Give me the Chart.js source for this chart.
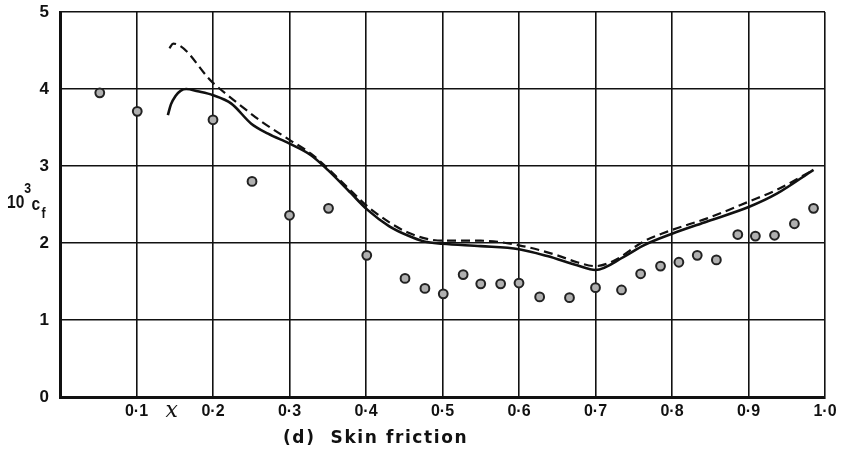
<!DOCTYPE html>
<html>
<head>
<meta charset="utf-8">
<script src="https://cdn.jsdelivr.net/npm/chart.js@4.4.0/dist/chart.umd.min.js"></script>
<style>
html,body{margin:0;padding:0;background:#fff;}
#wrap{position:relative;width:852px;height:451px;}
</style>
</head>
<body>
<div id="wrap"><canvas id="c" width="852" height="451"></canvas></div>
<script>
// ---- data ----
const xTicks = [0.1,0.2,0.3,0.4,0.5,0.6,0.7,0.8,0.9,1.0];
const xTickLabels = ['0·1','0·2','0·3','0·4','0·5','0·6','0·7','0·8','0·9','1·0'];
const yTickLabels = ['0','1','2','3','4','5'];

const pointX = [0.052,0.101,0.200,0.251,0.300,0.351,0.401,0.451,0.477,0.501,0.527,0.550,0.576,0.600,0.627,0.666,0.700,0.734,0.759,0.785,0.809,0.833,0.858,0.886,0.909,0.934,0.960,0.985];
const pointY = [3.95,3.71,3.60,2.80,2.36,2.45,1.84,1.54,1.41,1.34,1.59,1.47,1.47,1.48,1.30,1.29,1.42,1.39,1.60,1.70,1.75,1.84,1.78,2.11,2.09,2.10,2.25,2.45];

const solidX = [0.141,0.145,0.151,0.158,0.165,0.180,0.200,0.224,0.250,0.272,0.300,0.328,0.350,0.380,0.402,0.430,0.454,0.476,0.500,0.550,0.600,0.637,0.676,0.700,0.737,0.763,0.800,0.846,0.901,0.937,0.985];
const solidY = [3.66,3.80,3.91,3.98,4.00,3.97,3.92,3.81,3.55,3.42,3.29,3.14,2.95,2.65,2.43,2.22,2.10,2.02,1.99,1.96,1.92,1.83,1.71,1.65,1.82,1.97,2.12,2.28,2.47,2.64,2.95];

const dashX = [0.143,0.148,0.200,0.233,0.263,0.300,0.328,0.350,0.380,0.405,0.454,0.500,0.550,0.600,0.650,0.676,0.700,0.724,0.763,0.800,0.846,0.901,0.937,0.985];
const dashY = [4.53,4.59,4.08,3.81,3.58,3.34,3.16,2.97,2.68,2.45,2.14,2.03,2.03,1.97,1.84,1.75,1.70,1.77,2.02,2.17,2.32,2.54,2.69,2.95];

const toXY = (xs, ys) => xs.map((x, i) => ({x: x, y: ys[i]}));

const textPlugin = {
  id: 'texts',
  afterDraw(chart) {
    const ctx = chart.ctx;
    const xs = chart.scales.x;
    ctx.save();
    ctx.fillStyle = '#111';
    ctx.textBaseline = 'alphabetic';
    ctx.textAlign = 'left';
    // y axis title 10^3 c_f (slightly condensed)
    ctx.save();
    ctx.translate(7, 0);
    ctx.scale(0.82, 1);
    ctx.font = 'bold 19px "Liberation Sans", Arial, sans-serif';
    ctx.fillText('10', 0, 208);
    ctx.font = 'bold 15px "Liberation Sans", Arial, sans-serif';
    ctx.fillText('3', 21, 193);
    ctx.font = 'bold 19px "Liberation Sans", Arial, sans-serif';
    ctx.fillText('c', 30, 210);
    ctx.font = 'bold 15px "Liberation Sans", Arial, sans-serif';
    ctx.fillText('f', 42, 218);
    ctx.restore();
    // x label
    ctx.font = 'italic 22px "DejaVu Serif", serif';
    ctx.textAlign = 'center';
    ctx.fillText('x', xs.getPixelForValue(0.146), 417);
    // caption
    ctx.font = 'bold 17px "DejaVu Sans", sans-serif';
    ctx.letterSpacing = '1.6px';
    ctx.textAlign = 'left';
    ctx.fillText('(d)  Skin friction', 283, 443);
    ctx.restore();
  }
};

new Chart(document.getElementById('c'), {
  type: 'scatter',
  data: {
    datasets: [
      {
        type: 'line', data: toXY(dashX, dashY), borderColor: '#111', borderWidth: 2.2,
        borderDash: [9, 5], pointRadius: 0, fill: false, cubicInterpolationMode: 'monotone'
      },
      {
        type: 'line', data: toXY(solidX, solidY), borderColor: '#111', borderWidth: 2.6,
        pointRadius: 0, fill: false, cubicInterpolationMode: 'monotone'
      },
      {
        data: toXY(pointX, pointY), pointRadius: 4.4, pointBorderWidth: 2,
        pointBorderColor: '#222', pointBackgroundColor: '#b0b0b0'
      },
      {
        data: toXY(pointX, pointY), pointRadius: 1.4, pointBorderWidth: 0,
        pointBackgroundColor: '#111'
      }
    ]
  },
  options: {
    responsive: false,
    animation: false,
    events: [],
    layout: { padding: { left: 0, right: 27, top: 12, bottom: 0 } },
    plugins: { legend: { display: false }, tooltip: { enabled: false }, title: { display: false } },
    scales: {
      x: {
        type: 'linear', min: 0, max: 1,
        afterBuildTicks(scale) { scale.ticks = [0].concat(xTicks).map(v => ({value: v})); },
        afterFit(scale) { scale.height = 54; scale.paddingLeft = 0; scale.paddingRight = 0; },
        grid: { color: '#111', lineWidth: 1.6, drawTicks: false },
        border: { color: '#111', width: 3 },
        ticks: {
          padding: 5, color: '#111',
          font: { family: '"Liberation Sans", Arial, sans-serif', size: 16, weight: 'bold' },
          callback(v) { const i = xTicks.findIndex(t => Math.abs(t - v) < 1e-6); return i >= 0 ? xTickLabels[i] : ''; },
          maxRotation: 0, autoSkip: false
        }
      },
      y: {
        type: 'linear', min: 0, max: 5,
        afterFit(scale) { scale.width = 60; scale.paddingTop = 0; scale.paddingBottom = 0; },
        grid: { color: '#111', lineWidth: 1.6, drawTicks: false },
        border: { color: '#111', width: 3 },
        ticks: {
          stepSize: 1, padding: 11, color: '#111',
          font: { family: '"Liberation Sans", Arial, sans-serif', size: 17, weight: 'bold' },
          callback(v) { return yTickLabels[Math.round(v)]; }
        }
      }
    }
  },
  plugins: [textPlugin]
});
</script>
</body>
</html>
